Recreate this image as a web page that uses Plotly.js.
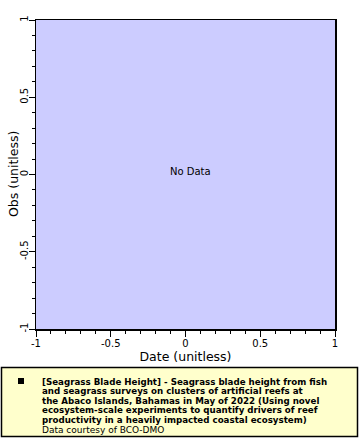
<!DOCTYPE html>
<html>
<head>
<meta charset="utf-8">
<script src="https://cdn.plot.ly/plotly-3.0.1.min.js"></script>
<style>html,body{margin:0;padding:0;background:#fff;}#chart{width:360px;height:440px;}</style>
</head>
<body>
<div id="chart"></div>
<script>
// No data available for this series
const dates = [];
const obs = [];
const xRange = [-1, 1];
const yRange = [-1, 1];
const tickVals = [-1, -0.5, 0, 0.5, 1];
const tickText = ["-1", "-0.5", "0", "0.5", "1"];
const xTitle = "Date (unitless)";
const yTitle = "Obs (unitless)";
const seriesName = "[Seagrass Blade Height] - Seagrass blade height from fish";
const legendLines = [
  "[Seagrass Blade Height] - Seagrass blade height from fish",
  "and seagrass surveys on clusters of artificial reefs at",
  "the Abaco Islands, Bahamas in May of 2022 (Using novel",
  "ecosystem-scale experiments to quantify drivers of reef",
  "productivity in a heavily impacted coastal ecosystem)"
];
const creditLine = "Data courtesy of BCO-DMO";

const L = 36, T = 20, W = 299, H = 309;
const px = x => (x - L) / W;
const py = y => (T + H - y) / H;

const font = "DejaVu Sans, sans-serif";
const annotations = [
  {text: "No Data", xref: "paper", yref: "paper", x: px(190), y: py(171), showarrow: false,
   font: {family: font, size: 10, color: "#000"}},
  {text: yTitle, xref: "paper", yref: "paper", x: px(13.5), y: 0.5, textangle: -90, showarrow: false,
   xanchor: "center", yanchor: "middle", borderpad: 0, font: {family: font, size: 12.5, color: "#000"}}
];
legendLines.forEach((t, i) => {
  annotations.push({text: "<b>" + t + "</b>", xref: "paper", yref: "paper", x: px(41), y: py(381.5 + i * 9.6),
    xanchor: "left", yanchor: "middle", showarrow: false, borderpad: 0, font: {family: font, size: 8.7, color: "#000"}});
});
annotations.push({text: creditLine, xref: "paper", yref: "paper", x: px(41), y: py(381.5 + 5 * 9.6),
  xanchor: "left", yanchor: "middle", showarrow: false, borderpad: 0, font: {family: font, size: 9, color: "#000"}});

const trace = {x: dates, y: obs, type: "scatter", mode: "markers", name: seriesName,
  marker: {color: "#000", symbol: "square"}, showlegend: false};

const axisCommon = {
  showgrid: false, zeroline: false, showline: true, linecolor: "#000", linewidth: 1.5, mirror: true,
  ticks: "outside", ticklen: 6, tickwidth: 1, tickcolor: "#000",
  minor: {dtick: 0.1, ticks: "outside", ticklen: 3, tickcolor: "#000", showgrid: false},
  tickfont: {family: font, size: 10, color: "#000"}
};

const layout = {
  width: 360, height: 440,
  margin: {l: L, r: 360 - L - W, t: T, b: 440 - T - H, pad: 0},
  paper_bgcolor: "#fff", plot_bgcolor: "#ccccff",
  showlegend: false,
  xaxis: Object.assign({}, axisCommon, {range: xRange, tickvals: tickVals, ticktext: tickText, ticklabelstandoff: -2,
    title: {text: xTitle, font: {family: font, size: 12.5, color: "#000"}, standoff: 3}}),
  yaxis: Object.assign({}, axisCommon, {range: yRange, tickangle: -90, tickvals: tickVals, ticktext: tickText, ticklabelstandoff: -3}),
  shapes: [
    {type: "rect", xref: "paper", yref: "paper", x0: px(1.5), x1: px(357.5), y0: py(436.5), y1: py(367.5),
     fillcolor: "#ffffcc", line: {color: "#000", width: 1.5}, layer: "below"},
    {type: "rect", xref: "paper", yref: "paper", x0: px(18), x1: px(24), y0: py(384), y1: py(378),
     fillcolor: "#000", line: {width: 0}}
  ],
  annotations: annotations
};

Plotly.newPlot("chart", [trace], layout, {staticPlot: true, displayModeBar: false});
</script>
</body>
</html>
